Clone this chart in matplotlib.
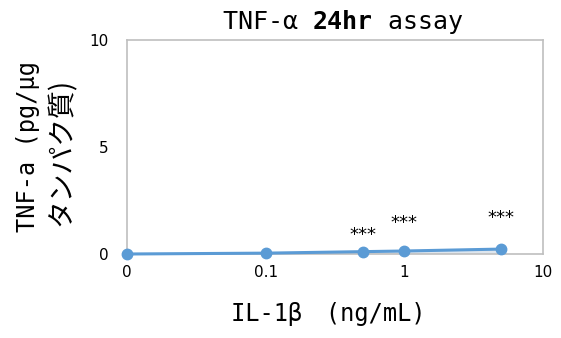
import matplotlib
matplotlib.use("Agg")
import matplotlib.pyplot as plt
import numpy as np

plt.rcParams['font.family'] = ['DejaVu Sans', 'Noto Sans CJK JP']
MONO = ['DejaVu Sans Mono', 'Noto Sans CJK JP']

doses = [0, 0.1, 0.5, 1, 5]
tnf = [0.0, 0.04, 0.11, 0.14, 0.23]
sig = ['', '', '***', '***', '***']
sig_y = [None, None, 0.98, 1.54, 1.78]
xtick_vals = [0, 0.1, 1, 10]
xtick_labels = ['0', '0.1', '1', '10']
ytick_vals = [0, 5, 10]
ylabel_lines = ['TNF-a (pg/μg', 'タンパク質)']

ZERO_POS = 0.01
def pos(v):
    return ZERO_POS if v == 0 else v

fig = plt.figure(figsize=(5.61, 3.38), dpi=100)
ax = fig.add_axes([127/561, 1-254/338, (543-127)/561, (254-40)/338])

xs = [pos(d) for d in doses]
color = '#5B9BD5'
# faint shadow
ax.plot(xs, np.array(tnf) - 0.1, color='#c9d6e3', lw=4, alpha=0.6, zorder=2,
        solid_capstyle='round')
ax.plot(xs, tnf, color=color, lw=2.2, marker='o', ms=7.5, zorder=3, clip_on=False)
for x, s, y in zip(xs, sig, sig_y):
    if s:
        ax.text(x, y, s, ha='center', va='center_baseline', fontsize=13,
                color='black', family='DejaVu Sans')

ax.set_xscale('log')
ax.set_xlim(ZERO_POS, 10)
ax.set_ylim(0, 10)
ax.set_xticks([pos(v) for v in xtick_vals])
ax.set_xticklabels(xtick_labels)
ax.minorticks_off()
ax.set_yticks(ytick_vals)
ax.tick_params(length=0, labelsize=11)
ax.tick_params(axis='x', pad=8)
ax.tick_params(axis='y', pad=13)
for sp in ax.spines.values():
    sp.set_color('#bfbfbf')
    sp.set_linewidth(1.2)

ax.set_xlabel('IL-1β\u3000(ng/mL)', fontsize=17, labelpad=12, family=MONO)
ax.xaxis.set_label_coords((328 - 127) / 416, -0.28)
ax.xaxis.label.set_va('center')

fig.text(28/561, 1 - 147/338, ylabel_lines[0], rotation=90, ha='center',
         va='center', fontsize=17, family=MONO)
fig.text(62/561, 1 - 152/338, ylabel_lines[1], rotation=90, ha='center',
         va='center', fontsize=20, family=['Noto Sans CJK JP'])

t1 = fig.text(0.0, 0.0, 'TNF-α ', fontsize=18, va='baseline', family=MONO)
t2 = ax.annotate('24hr', xy=(1, 0), xycoords=t1, fontsize=18, fontweight='bold',
                 va='bottom', family=MONO)
t3 = ax.annotate(' assay', xy=(1, 0), xycoords=t2, fontsize=18, va='bottom',
                 family=MONO)
fig.canvas.draw()
r = fig.canvas.get_renderer()
w = (t1.get_window_extent(r).width + t2.get_window_extent(r).width
     + t3.get_window_extent(r).width)
cx = 343
t1.set_position(((cx - w/2)/561, 1 - 29/338))

fig.savefig('out.png', dpi=100)
